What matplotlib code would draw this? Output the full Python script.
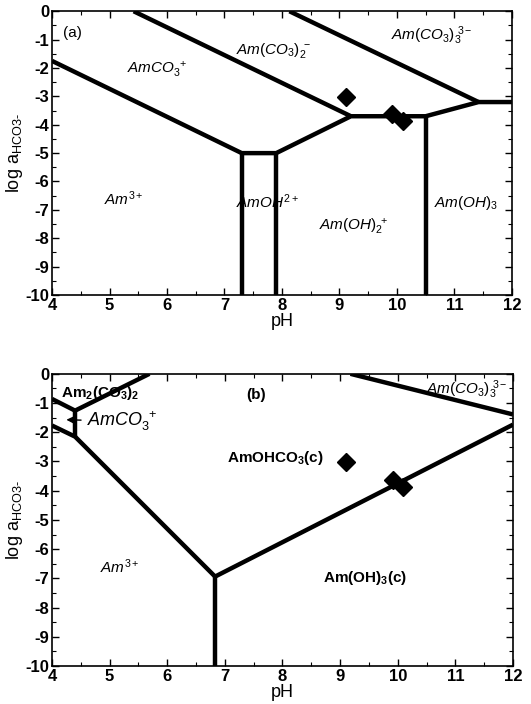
import matplotlib
matplotlib.use("Agg")
import matplotlib.pyplot as plt
from matplotlib.ticker import MultipleLocator

plt.rcParams['font.family'] = ['Liberation Sans', 'DejaVu Sans']
plt.rcParams['mathtext.fontset'] = 'custom'
plt.rcParams['mathtext.rm'] = 'Liberation Sans'
plt.rcParams['mathtext.it'] = 'Liberation Sans:italic'
plt.rcParams['mathtext.bf'] = 'Liberation Sans:bold'

# ---- data: panel (a) boundary lines (pH, log a_HCO3-) ----
a_lines = [
    ([4.0, 7.3, 7.9, 9.2, 10.5, 11.42, 12.0], [-1.75, -5.0, -5.0, -3.7, -3.7, -3.2, -3.2]),
    ([7.3, 7.3], [-5.0, -10.0]),
    ([7.9, 7.9], [-5.0, -10.0]),
    ([5.42, 9.2], [0.0, -3.7]),
    ([10.5, 10.5], [-3.7, -10.0]),
    ([8.13, 11.42], [0.0, -3.2]),
]
# ---- data: panel (b) boundary lines ----
b_lines = [
    ([4.0, 4.4, 5.69], [-0.86, -1.26, 0.0]),
    ([4.4, 4.4], [-1.26, -2.15]),
    ([4.0, 4.4, 6.83, 12.0], [-1.77, -2.15, -6.94, -1.74]),
    ([6.83, 6.83], [-6.94, -10.0]),
    ([9.18, 12.0], [0.0, -1.39]),
]
# measured points
pts_pH = [9.11, 9.91, 10.1]
pts_log = [-3.02, -3.63, -3.88]

x_ticks = [4, 5, 6, 7, 8, 9, 10, 11, 12]
y_ticks = [0, -1, -2, -3, -4, -5, -6, -7, -8, -9, -10]

fig = plt.figure(figsize=(5.31, 7.04), dpi=100)
axa = fig.add_axes([0.098, 0.581, 0.866, 0.403])
axb = fig.add_axes([0.098, 0.054, 0.868, 0.415])

for ax, lines in ((axa, a_lines), (axb, b_lines)):
    for xs, ys in lines:
        ax.plot(xs, ys, color='black', lw=3.2, solid_joinstyle='miter', solid_capstyle='butt')
    ax.plot(pts_pH, pts_log, 'D', color='black', markersize=9, clip_on=False)
    ax.set_xlim(4, 12)
    ax.set_ylim(-10, 0)
    ax.set_xticks(x_ticks)
    ax.set_yticks(y_ticks)
    ax.set_xticklabels([str(t) for t in x_ticks], fontweight='bold', fontsize=12)
    ax.set_yticklabels([str(t) for t in y_ticks], fontweight='bold', fontsize=12)
    ax.xaxis.set_minor_locator(MultipleLocator(0.5))
    ax.yaxis.set_minor_locator(MultipleLocator(0.5))
    ax.tick_params(which='both', direction='in', top=True, right=True)
    ax.tick_params(which='major', length=5, width=1, pad=2)
    ax.tick_params(which='minor', length=3, width=0.8)
    ax.set_xlabel('pH', fontsize=13, labelpad=0)
    ax.set_ylabel(r'log a$_{\mathregular{HCO3}\text{-}}$', fontsize=13, labelpad=0)
    for s in ax.spines.values():
        s.set_linewidth(1.2)

fs = 11
# panel (a) labels
axa.text(4.35, -0.75, '(a)', fontsize=fs, ha='center', va='center')
axa.text(7.86, -1.37, r'$Am(CO_3)_2^{\ -}$', fontsize=fs, ha='center', va='center')
axa.text(10.6, -0.85, r'$Am(CO_3)_3^{\ 3-}$', fontsize=fs, ha='center', va='center')
axa.text(5.83, -2.08, r'$AmCO_3^{\ +}$', fontsize=fs, ha='center', va='center')
axa.text(5.25, -6.6, r'$Am^{3+}$', fontsize=fs, ha='center', va='center')
axa.text(7.74, -6.7, r'$AmOH^{2+}$', fontsize=fs, ha='center', va='center')
axa.text(9.25, -7.6, r'$Am(OH)_2^{\ +}$', fontsize=fs, ha='center', va='center')
axa.text(11.2, -6.77, r'$Am(OH)_3$', fontsize=fs, ha='center', va='center')

# panel (b) labels
axb.text(4.83, -0.65, r'$\mathbf{Am_2(CO_3)_2}$', fontsize=fs, ha='center', va='center')
axb.text(7.54, -0.71, '(b)', fontsize=fs, ha='center', va='center', fontweight='bold')
axb.text(11.2, -0.54, r'$Am(CO_3)_3^{\ 3-}$', fontsize=fs, ha='center', va='center')
axb.annotate(r'$AmCO_3^{\ +}$', xy=(4.2, -1.57), xytext=(4.6, -1.62), fontsize=13,
             ha='left', va='center',
             arrowprops=dict(arrowstyle='-|>', color='black', lw=1, mutation_scale=10))
axb.text(7.88, -2.88, r'$\mathbf{AmOHCO_3(c)}$', fontsize=fs, ha='center', va='center')
axb.text(5.17, -6.6, r'$Am^{3+}$', fontsize=fs, ha='center', va='center')
axb.text(9.44, -7.0, r'$\mathbf{Am(OH)_3(c)}$', fontsize=fs, ha='center', va='center')

fig.savefig('out.png', dpi=100)
